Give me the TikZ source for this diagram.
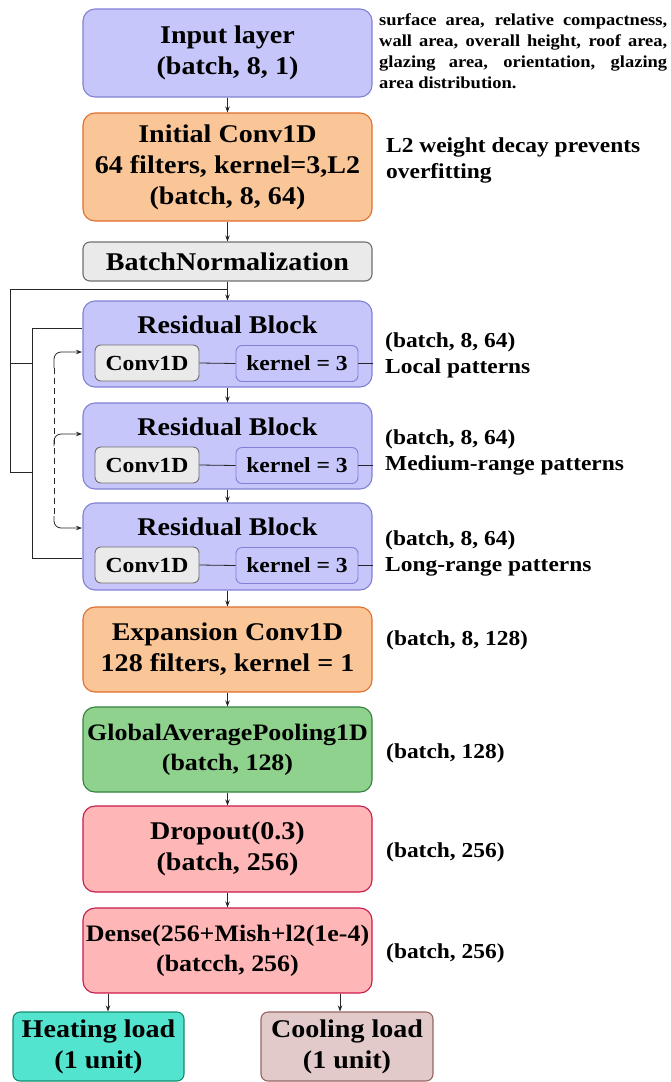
\documentclass[tikz,border=0pt]{standalone}
\usepackage{fontspec}
\setmainfont{Liberation Serif}[FakeStretch=1.1]
\usetikzlibrary{arrows.meta}
\definecolor{lavF}{RGB}{198,198,250}
\definecolor{lavD}{RGB}{128,128,215}
\definecolor{orF}{RGB}{250,198,152}
\definecolor{orD}{RGB}{225,110,45}
\definecolor{grF}{RGB}{234,234,234}
\definecolor{grD}{RGB}{110,110,110}
\definecolor{gnF}{RGB}{142,210,142}
\definecolor{gnD}{RGB}{50,130,60}
\definecolor{pkF}{RGB}{255,182,182}
\definecolor{pkD}{RGB}{200,25,75}
\definecolor{tlF}{RGB}{82,228,206}
\definecolor{tlD}{RGB}{20,140,110}
\definecolor{mvF}{RGB}{226,202,202}
\definecolor{mvD}{RGB}{150,100,100}
\begin{document}
\begin{tikzpicture}[x=1pt,y=-1pt,
  blk/.style={draw, line width=1.1pt, rounded corners=12pt, minimum width=289pt,
    align=center, inner sep=0pt, font=\bfseries\fontsize{25.5}{31}\selectfont},
  blks/.style={blk, font=\bfseries\fontsize{23.6}{30}\selectfont},
  subbox/.style={draw, line width=0.9pt, rounded corners=6pt, inner sep=0pt,
    minimum height=36pt, font=\bfseries\fontsize{21.5}{26}\selectfont},
  ttl/.style={inner sep=0pt, font=\bfseries\fontsize{25.5}{31}\selectfont},
  rt/.style={anchor=west, align=left, inner sep=0pt, font=\bfseries\fontsize{21.3}{26}\selectfont},
  arr/.style={-{Stealth[length=6pt,width=4.5pt]}, line width=0.8pt, draw=black!85},
  ln/.style={line width=0.8pt, draw=black!85},
  dln/.style={line width=0.8pt, draw=black!85, dash pattern=on 6pt off 4pt}]
\useasboundingbox (0,0) rectangle (670,1082);

% main column
\node[blk, fill=lavF, draw=lavD, minimum height=88pt] (inp) at (227.5,53) {Input layer\\(batch, 8, 1)};
\node[blk, fill=orF, draw=orD, minimum height=108pt] (ic) at (227.5,167) {Initial Conv1D\\64 filters, kernel=3,L2\\(batch, 8, 64)};
\node[blk, fill=grF, draw=grD, minimum height=39pt, rounded corners=7pt] (bn) at (227.5,261.5) {BatchNormalization};

\node[blk, fill=lavF, draw=lavD, minimum height=86pt] (rb1) at (227.5,344) {};
\node[blk, fill=lavF, draw=lavD, minimum height=86pt] (rb2) at (227.5,446) {};
\node[blk, fill=lavF, draw=lavD, minimum height=87pt] (rb3) at (227.5,546.5) {};
\node[ttl] (rt1) at (227.5,325) {Residual Block};
\node[ttl] (rt2) at (227.5,427) {Residual Block};
\node[ttl] (rt3) at (227.5,527) {Residual Block};
\node[subbox, fill=grF, draw=grD, minimum width=104pt] (c1) at (147,363) {Conv1D};
\node[subbox, fill=lavF, draw=lavD, minimum width=122pt] (k1) at (297,363.5) {kernel = 3};
\node[subbox, fill=grF, draw=grD, minimum width=104pt] (c2) at (147,465) {Conv1D};
\node[subbox, fill=lavF, draw=lavD, minimum width=122pt] (k2) at (297,465.5) {kernel = 3};
\node[subbox, fill=grF, draw=grD, minimum width=104pt] (c3) at (147,565) {Conv1D};
\node[subbox, fill=lavF, draw=lavD, minimum width=122pt] (k3) at (297,565.5) {kernel = 3};

\node[blk, fill=orF, draw=orD, minimum height=85pt] (exp) at (227.5,649.5) {Expansion Conv1D\\128 filters, kernel = 1};
\node[blks, fill=gnF, draw=gnD, minimum height=85pt] (gap) at (227.5,749.5) {GlobalAveragePooling1D\\(batch, 128)};
\node[blk, fill=pkF, draw=pkD, minimum height=86pt] (drop) at (227.5,849) {Dropout(0.3)\\(batch, 256)};
\node[blks, fill=pkF, draw=pkD, minimum height=85pt] (dense) at (227.5,950.5) {Dense(256+Mish+l2(1e-4)\\(batcch, 256)};
\node[blk, fill=tlF, draw=tlD, minimum width=171pt, minimum height=69pt, rounded corners=7pt] (heat) at (98.5,1046.5) {Heating load\\(1 unit)};
\node[blk, fill=mvF, draw=mvD, minimum width=172pt, minimum height=69pt, rounded corners=7pt] (cool) at (347,1046.5) {Cooling load\\(1 unit)};

% arrows of the main column
\draw[arr] (inp) -- (ic);
\draw[arr] (ic) -- (bn);
\draw[arr] (bn) -- (rb1);
\draw[arr] (rb1) -- (rb2);
\draw[arr] (rb2) -- (rb3);
\draw[arr] (rb3) -- (exp);
\draw[arr] (exp) -- (gap);
\draw[arr] (gap) -- (drop);
\draw[arr] (drop) -- (dense);
\coordinate (hx) at (108,0);
\coordinate (cx) at (340,0);
\draw[arr] (dense.south -| hx) -- (heat.north -| hx);
\draw[arr] (dense.south -| cx) -- (cool.north -| cx);

% inner lines of the residual blocks
\foreach \i in {1,2,3}{
  \draw[ln] (c\i.east) -- (k\i.west);
  \draw[ln] (k\i.east) -- (k\i.east -| rb\i.east);
}

% skip connections
\coordinate (o1) at (10,289);
\coordinate (o2) at (10,472);
\coordinate (oi) at (10,363);
\coordinate (i0) at (32,328);
\coordinate (i1) at (32,363);
\coordinate (i2) at (32,472);
\coordinate (i3) at (32,558);
\draw[ln] (bn.south |- o1) -- (o1) -- (o2) -- (i2);
\draw[ln] (oi) -- (i1);
\draw[ln] (rb1.west |- i0) -- (i0) -- (i3) -- (rb3.west |- i3);

% dashed connections
\coordinate (d0) at (54,368);
\coordinate (d2) at (54,446);
\coordinate (d3) at (54,516);
\coordinate (e1) at (82,352);
\coordinate (e2) at (82,434);
\coordinate (e3) at (82,528);
\draw[dln] (d0) -- (d3);
\draw[arr, rounded corners=7pt] (d0) |- (e1);
\draw[arr, rounded corners=7pt] (d2) |- (e2);
\draw[arr, rounded corners=7pt] (d3) |- (e3);

% side texts
\node[anchor=north west, inner sep=0pt, text width=288pt, align=justify,
  font=\bfseries\fontsize{16.8}{21}\selectfont] (desc) at (379,13)
  {\hyphenpenalty=10000 surface area, relative compactness, wall area, overall height, roof area, glazing area, orientation, glazing area distribution.};
\node[rt] (l2) at (386,160.5) {L2 weight decay prevents\\overfitting};
\node[rt] (s1) at (385,355.5) {(batch, 8, 64)\\Local patterns};
\node[rt] (s2) at (385,452) {(batch, 8, 64)\\Medium-range patterns};
\node[rt] (s3) at (385,553) {(batch, 8, 64)\\Long-range patterns};
\node[rt] (s4) at (386,640) {(batch, 8, 128)};
\node[rt] (s5) at (386,753) {(batch, 128)};
\node[rt] (s6) at (386,852) {(batch, 256)};
\node[rt] (s7) at (386,953) {(batch, 256)};
\end{tikzpicture}
\end{document}
